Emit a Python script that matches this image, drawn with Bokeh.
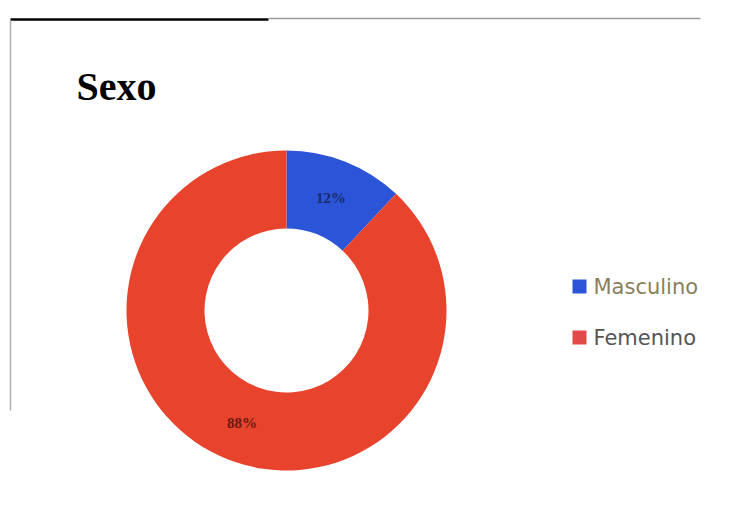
import math
from bokeh.plotting import figure
from bokeh.models import Range1d, ColumnDataSource
from bokeh.core.properties import value
from bokeh.embed import file_html
from bokeh.resources import INLINE

# ---- data ----
categories = ["Masculino", "Femenino"]
shares = [12, 88]
slice_colors = ["#2b55d6", "#e8432c"]
legend_colors = ["#2b55d6", "#e24a4a"]
legend_text_colors = ["#8a7f5c", "#555555"]
label_colors = ["#1a2a6a", "#6a1a10"]
title_text = "Sexo"

W, H = 719, 514


def px(x):
    return x


def py(y):
    return H - y


p = figure(width=W, height=H, output_backend="svg", toolbar_location=None,
           x_range=Range1d(0, W), y_range=Range1d(0, H), min_border=0)
p.axis.visible = False
p.grid.visible = False
p.outline_line_color = None
p.background_fill_color = "white"
p.border_fill_color = "white"

# frame lines (scanned page border)
p.line([px(10), px(268)], [py(19), py(19)], line_color="black", line_width=2.5)
p.line([px(268), px(700)], [py(18), py(18)], line_color="#9a9a9a", line_width=1.5)
p.line([px(10), px(10)], [py(20), py(410)], line_color="#b0b0b0", line_width=1.5)

# donut
cx, cy = px(286), py(310)
r_in, r_out = 82, 160
total = sum(shares)
starts, ends, lx, ly, labels = [], [], [], [], []
acc = 0.0
for s in shares:
    a0 = math.pi / 2 - 2 * math.pi * acc / total
    a1 = math.pi / 2 - 2 * math.pi * (acc + s) / total
    starts.append(a0)
    ends.append(a1)
    mid = (a0 + a1) / 2
    rm = (r_in + r_out) / 2
    lx.append(cx + rm * math.cos(mid))
    ly.append(cy + rm * math.sin(mid))
    labels.append(f"{s}%")
    acc += s

src = ColumnDataSource(dict(start=starts, end=ends, color=slice_colors,
                            lx=lx, ly=ly, label=labels, lc=label_colors))
p.annular_wedge(x=cx, y=cy, inner_radius=r_in, outer_radius=r_out,
                start_angle="start", end_angle="end", direction="clock",
                fill_color="color", line_color=None, source=src)
p.text(x="lx", y="ly", text="label", source=src, text_color="lc",
       text_align="center", text_baseline="middle",
       text_font=value("Liberation Serif"), text_font_style="bold",
       text_font_size="15px")

# title
p.text(x=[px(76)], y=[py(86)], text=[title_text], text_color="black",
       text_font=value("Liberation Serif"), text_font_style="bold",
       text_font_size="40px", text_baseline="alphabetic")

# legend
leg_y = [py(286), py(337)]
p.scatter(x=[px(579)] * 2, y=leg_y, marker="square", size=14,
          fill_color=legend_colors, line_color=None)
p.text(x=[px(593)] * 2, y=leg_y, text=categories, text_color=legend_text_colors,
       text_baseline="middle", text_font=value("DejaVu Sans"),
       text_font_size="21px")

open("out.html", "w").write(file_html(p, INLINE))
